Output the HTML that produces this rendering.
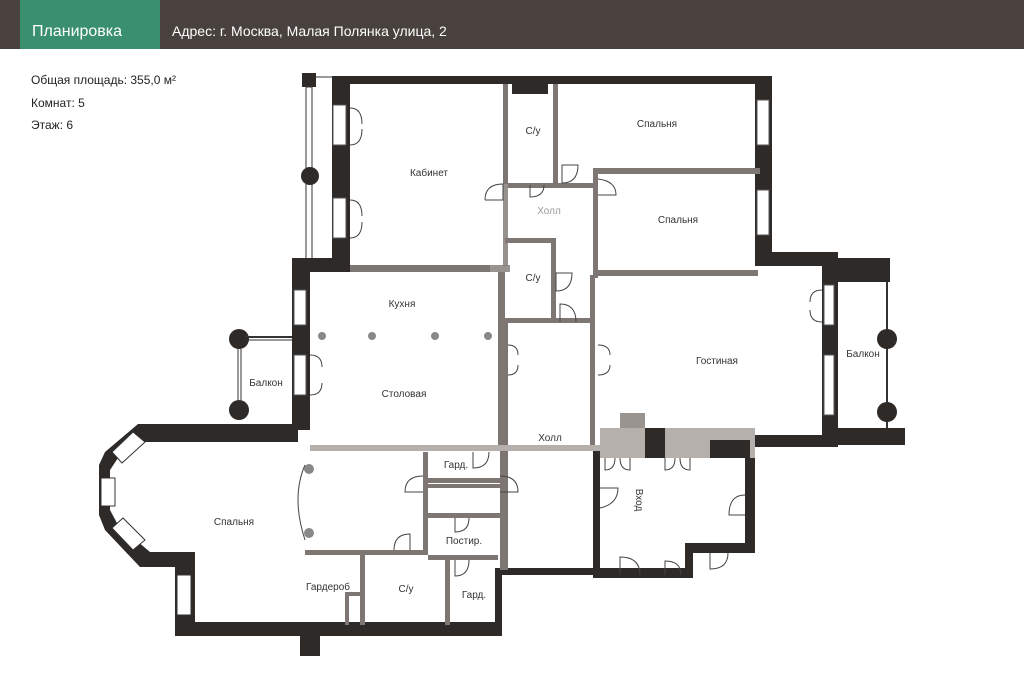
<!DOCTYPE html>
<html><head><meta charset="utf-8"><style>
body{margin:0;width:1024px;height:683px;background:#fff;overflow:hidden;font-family:"Liberation Sans",sans-serif}
svg{position:absolute;left:0;top:0}
</style></head><body>
<svg width="1024" height="683" viewBox="0 0 1024 683" font-family="Liberation Sans, sans-serif">
<rect x="0" y="0" width="1024" height="49" fill="#48413e"/>
<rect x="20" y="0" width="140" height="49" fill="#3a8f6f"/>
<text x="32" y="36" font-size="16" fill="#fff">Планировка</text>
<text x="172" y="36" font-size="14" fill="#fff">Адрес: г. Москва,  Малая Полянка улица, 2</text>
<g font-size="12" fill="#222">
<text x="31" y="84">Общая площадь: 355,0 м²</text>
<text x="31" y="107">Комнат: 5</text>
<text x="31" y="129">Этаж: 6</text>
</g>
<!-- left top balcony -->
<rect x="302" y="73" width="14" height="14" fill="#2d2a28"/>
<rect x="306" y="87" width="6" height="172" fill="none" stroke="#333" stroke-width="1"/>
<line x1="316" y1="77" x2="332" y2="77" stroke="#333"/>
<circle cx="310" cy="176" r="9" fill="#2d2a28"/>
<!-- outer dark walls -->
<g fill="#2d2a28">
<rect x="332" y="76" width="440" height="8"/>
<rect x="332" y="76" width="18" height="194"/>
<rect x="755" y="76" width="17" height="190"/>
<rect x="755" y="252" width="83" height="14"/>
<rect x="822" y="252" width="16" height="195"/>
<rect x="838" y="258" width="52" height="24"/>
<rect x="838" y="428" width="67" height="17"/>
<rect x="715" y="435" width="110" height="12"/>
<rect x="292" y="258" width="58" height="14"/>
<rect x="292" y="258" width="18" height="172"/>
<rect x="138" y="424" width="160" height="18"/>
<rect x="593" y="447" width="7" height="128"/>
<rect x="745" y="440" width="10" height="110"/>
<rect x="685" y="543" width="70" height="10"/>
<rect x="685" y="543" width="8" height="35"/>
<rect x="593" y="568" width="97" height="10"/>
<rect x="500" y="568" width="100" height="7"/>
<rect x="495" y="568" width="7" height="62"/>
<rect x="175" y="622" width="327" height="14"/>
<rect x="300" y="622" width="20" height="34"/>
<rect x="175" y="555" width="20" height="80"/>
<rect x="165" y="552" width="30" height="15"/>
</g>
<!-- bay window octagon -->
<polygon points="138,424 150,424 118,458 110,470 110,510 118,525 150,552 165,552 165,567 140,567 105,530 99,515 99,465 105,452" fill="#2d2a28"/>
<g fill="#fff" stroke="#333" stroke-width="1">
<polygon points="112,452 133,432 145,442 122,463"/>
<rect x="101" y="478" width="14" height="28"/>
<polygon points="112,528 123,518 145,540 133,550"/>
<rect x="177" y="575" width="14" height="40"/>
</g>
<!-- windows white -->
<g fill="#fff" stroke="#555" stroke-width="1">
<rect x="333" y="105" width="13" height="40"/>
<rect x="333" y="198" width="13" height="40"/>
<rect x="757" y="100" width="12" height="45"/>
<rect x="757" y="190" width="12" height="45"/>
<rect x="294" y="290" width="12" height="35"/>
<rect x="294" y="355" width="12" height="40"/>
<rect x="824" y="285" width="10" height="40"/>
<rect x="824" y="355" width="10" height="60"/>
</g>
<line x1="887" y1="282" x2="887" y2="428" stroke="#333" stroke-width="2"/>
<circle cx="887" cy="339" r="10" fill="#2d2a28"/>
<circle cx="887" cy="412" r="10" fill="#2d2a28"/>
<!-- left balcony -->
<circle cx="239" cy="339" r="10" fill="#2d2a28"/>
<circle cx="239" cy="410" r="10" fill="#2d2a28"/>
<line x1="245" y1="337" x2="292" y2="337" stroke="#333" stroke-width="2"/>
<line x1="245" y1="340" x2="292" y2="340" stroke="#333" stroke-width="1"/>
<line x1="238" y1="349" x2="238" y2="402" stroke="#333"/>
<line x1="241" y1="349" x2="241" y2="402" stroke="#333"/>
<!-- interior grey walls -->
<g fill="#7d7672">
<rect x="350" y="265" width="140" height="7"/>
<rect x="490" y="265" width="20" height="7" fill="#9a9490"/>
<rect x="503" y="84" width="5" height="100"/>
<rect x="503" y="84" width="5" height="182" opacity=".8"/>
<rect x="553" y="84" width="5" height="100"/>
<rect x="508" y="183" width="90" height="5"/>
<rect x="593" y="168" width="167" height="6"/>
<rect x="593" y="168" width="5" height="110"/>
<rect x="598" y="270" width="160" height="6"/>
<rect x="512" y="84" width="36" height="10" fill="#2d2a28"/>
<rect x="505" y="238" width="48" height="5"/>
<rect x="551" y="238" width="5" height="84"/>
<rect x="498" y="272" width="7" height="178"/>
<rect x="505" y="318" width="90" height="5"/>
<rect x="590" y="275" width="5" height="175"/>
<rect x="500" y="322" width="8" height="248"/>
<rect x="310" y="445" width="290" height="6" fill="#b5b0ac"/>
<rect x="423" y="452" width="5" height="100"/>
<rect x="428" y="478" width="72" height="5"/>
<rect x="428" y="484" width="72" height="4"/>
<rect x="428" y="513" width="72" height="5"/>
<rect x="428" y="555" width="70" height="5"/>
<rect x="305" y="550" width="123" height="5"/>
<rect x="360" y="555" width="5" height="70"/>
<rect x="445" y="560" width="5" height="65"/>
<rect x="345" y="592" width="15" height="4"/>
<rect x="345" y="592" width="4" height="33"/>
<rect x="600" y="428" width="155" height="30" fill="#b5b0ac"/>
<rect x="645" y="428" width="20" height="30" fill="#2d2a28"/>
<rect x="710" y="440" width="40" height="18" fill="#2d2a28"/>
<rect x="620" y="413" width="25" height="15" fill="#9a9490"/>
</g>
<!-- door arcs -->
<g fill="none" stroke="#444" stroke-width="1">
<path d="M350 108 q12 0 12 16 M350 145 q12 0 12-16 M350 200 q12 0 12 16 M350 238 q12 0 12-16"/>
<path d="M485 200 h18 v-16 q-18 0 -18 16"/>
<path d="M562 165 v18 q16 0 16-18 z"/>
<path d="M530 185 v12 q14 0 14-12"/>
<path d="M598 195 h18 q0-14 -18-16"/>
<path d="M556 273 v18 q16 0 16-18 z M560 322 v-18 q16 0 16 18"/>
<path d="M508 345 q10 0 10 10 M508 375 q10 0 10-10"/>
<path d="M598 345 q12 0 12 10 M598 375 q12 0 12-10"/>
<path d="M310 355 q12 0 12 12 M310 395 q12 0 12-12"/>
<path d="M822 290 q-12 0-12 12 M822 322 q-12 0-12-12"/>
<path d="M305 465 q-14 32 0 75"/>
<path d="M473 452 v16 q16 0 16-16 M423 492 h-18 q0-16 18-16 M500 492 h18 q0-16 -18-16"/>
<path d="M455 518 v14 q14 0 14-14 M410 550 v-16 q-16 0 -16 16 M455 560 v16 q14 0 14-16"/>
<path d="M605 458 v12 q10 0 10-12 M630 458 v12 q-10 0 -10-12 M665 458 v12 q10 0 10-12 M690 458 v12 q-10 0 -10-12"/>
<path d="M600 488 h18 q0 16 -18 20 M745 495 q-16 0 -16 20 h16 M620 575 v-18 q20 0 20 18 M665 575 v-14 q16 0 16 14 M710 553 v16 q18 0 18-16"/>
</g>
<g fill="#888"><circle cx="322" cy="336" r="4"/><circle cx="372" cy="336" r="4"/><circle cx="435" cy="336" r="4"/><circle cx="488" cy="336" r="4"/>
<circle cx="309" cy="469" r="5"/><circle cx="309" cy="533" r="5"/></g>
<g font-size="10" fill="#333" text-anchor="middle">
<text x="429" y="176">Кабинет</text>
<text x="533" y="134">С/у</text>
<text x="657" y="127">Спальня</text>
<text x="549" y="214" fill="#999">Холл</text>
<text x="678" y="223">Спальня</text>
<text x="533" y="281">С/у</text>
<text x="402" y="307">Кухня</text>
<text x="404" y="397">Столовая</text>
<text x="717" y="364">Гостиная</text>
<text x="863" y="357">Балкон</text>
<text x="266" y="386">Балкон</text>
<text x="550" y="441">Холл</text>
<text x="234" y="525">Спальня</text>
<text x="456" y="468">Гард.</text>
<text x="464" y="544">Постир.</text>
<text x="328" y="590">Гардероб</text>
<text x="406" y="592">С/у</text>
<text x="474" y="598">Гард.</text>
<text x="0" y="0" transform="translate(636,500) rotate(90)">Вход</text>
</g>
</svg>
</body></html>
